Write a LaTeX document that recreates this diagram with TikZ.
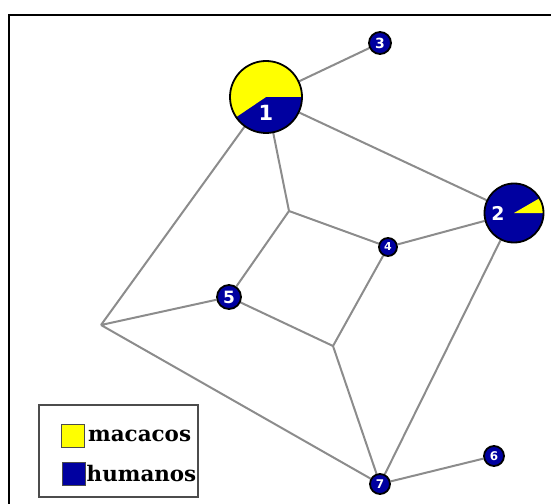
\documentclass[tikz,border=0pt]{standalone}
\usepackage{fontspec}
\setsansfont{DejaVu Sans}
\newfontfamily\legendfont{DejaVu Serif}
\usetikzlibrary{positioning,backgrounds}
\definecolor{macaco}{RGB}{255,255,0}
\definecolor{humano}{RGB}{0,0,160}
\definecolor{linkgray}{RGB}{140,140,140}
\tikzset{
  vertex/.style={circle,draw=black,line width=1.8bp,fill=humano,inner sep=0pt,
    text=white,font=\sffamily\bfseries},
  share/.style={path picture={%
    \fill[macaco] (path picture bounding box.center) -- ++(0:60bp)
      arc[start angle=0,end angle=#1,radius=60bp] -- cycle;}},
  joint/.style={coordinate},
  link/.style={draw=linkgray,line width=2bp},
  swatch/.style={draw=black!70,line width=1bp,minimum size=23bp,inner sep=0pt},
  legtext/.style={font=\legendfont\bfseries\fontsize{21.5}{24}\selectfont,inner sep=0pt}
}

\begin{document}
\begin{tikzpicture}[x=1bp,y=-1bp]
    \useasboundingbox (0,0) rectangle (560,504);
    % frame
    \draw[line width=2.2bp] (9,504) -- (9,15) -- (551,15);

    % vertices
    \node[vertex,share=214,minimum size=72bp,
          label={[text=white,font=\sffamily\bfseries\fontsize{21}{21}\selectfont,yshift=-16bp]center:1}]
          (n1) at (266,97) {};
    \node[vertex,share=30,minimum size=59bp,
          label={[text=white,font=\sffamily\bfseries\fontsize{19}{19}\selectfont,xshift=-16bp]center:2}]
          (n2) at (514,213) {};
    \node[vertex,minimum size=22bp,font=\sffamily\bfseries\fontsize{14}{14}\selectfont] (n3) at (380,43) {3};
    \node[vertex,minimum size=18bp,font=\sffamily\bfseries\fontsize{11}{11}\selectfont] (n4) at (388,247) {4};
    \node[vertex,minimum size=24bp,font=\sffamily\bfseries\fontsize{17}{17}\selectfont] (n5) at (229,297) {5};
    \node[vertex,minimum size=20bp,font=\sffamily\bfseries\fontsize{12}{12}\selectfont] (n6) at (494,456) {6};
    \node[vertex,minimum size=20bp,font=\sffamily\bfseries\fontsize{12}{12}\selectfont] (n7) at (380,484) {7};

    % bends without a vertex
    \node[joint] (ja) at (101,325) {};
    \node[joint] (jb) at (289,211) {};
    \node[joint] (jc) at (333,346) {};

    \begin{scope}[on background layer]
      \path[link] (n1) -- (n3)
                  (n1) -- (n2)
                  (n1) -- (jb)
                  (n1) -- (ja)
                  (jb) -- (n4)
                  (jb) -- (n5)
                  (n2) -- (n4)
                  (n4) -- (jc)
                  (n5) -- (ja)
                  (n5) -- (jc)
                  (ja) -- (n7)
                  (jc) -- (n7)
                  (n2) -- (n7)
                  (n7) -- (n6);
    \end{scope}

    % legend
    \draw[draw=black!70,line width=1.5bp] (39,405) rectangle (198,497);
    \node[swatch,fill=macaco] (swm) at (73,436) {};
    \node[swatch,fill=humano] (swh) at (74,474) {};
    \node[legtext,right=3bp of swm] (lm) {macacos};
    \node[legtext,right=0.5bp of swh] (lh) {humanos};
\end{tikzpicture}
\end{document}
